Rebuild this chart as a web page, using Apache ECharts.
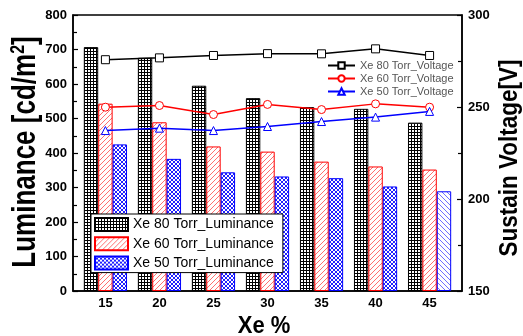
<!DOCTYPE html>
<html>
<head>
<meta charset="utf-8">
<script src="https://cdn.jsdelivr.net/npm/echarts@6/dist/echarts.min.js"></script>
<style>
  html, body { margin: 0; padding: 0; background: #fff; }
  #chart { width: 523px; height: 336px; }
</style>
</head>
<body>
<div id="chart"></div>
<script>
// Xe content (%)
const xeValues = [15, 20, 25, 30, 35, 40, 45];

// Luminance [cd/m2]
const lum80 = [707, 676, 595, 559, 533, 528, 488];
const lum60 = [543, 489, 419, 404, 375, 361, 352];
const lum50 = [425, 383, 344, 332, 327, 303, 289];

// Sustain voltage [V]
const volt80 = [275.7, 276.7, 278.0, 279.0, 278.9, 281.6, 278.0];
const volt60 = [249.9, 250.8, 245.9, 251.4, 248.6, 251.7, 249.9];
const volt50 = [237.2, 238.5, 237.2, 239.4, 242.1, 244.5, 247.6];

const barNames = ['Xe 80 Torr_Luminance', 'Xe 60 Torr_Luminance', 'Xe 50 Torr_Luminance'];
const lineNames = ['Xe 80 Torr_Voltage', 'Xe 60 Torr_Voltage', 'Xe 50 Torr_Voltage'];

// hatch fills
function tile(size, draw) {
  const c = document.createElement('canvas');
  c.width = c.height = size;
  const ctx = c.getContext('2d');
  ctx.fillStyle = '#fff';
  ctx.fillRect(0, 0, size, size);
  draw(ctx, size);
  return { image: c, repeat: 'repeat' };
}
const gridFill = tile(3, (ctx) => {
  ctx.fillStyle = '#000';
  ctx.fillRect(0, 0, 3, 1);
  ctx.fillRect(0, 0, 1, 3);
});
const slashFill = tile(5, (ctx, s) => {
  ctx.strokeStyle = '#ff7070';
  ctx.lineWidth = 1;
  ctx.beginPath();
  ctx.moveTo(-1, s + 1); ctx.lineTo(s + 1, -1);
  ctx.moveTo(-1, 1); ctx.lineTo(1, -1);
  ctx.moveTo(s - 1, s + 1); ctx.lineTo(s + 1, s - 1);
  ctx.stroke();
});
const crossFill = tile(4, (ctx, s) => {
  ctx.strokeStyle = '#2020ff';
  ctx.lineWidth = 1;
  ctx.beginPath();
  ctx.moveTo(0, 0); ctx.lineTo(s, s);
  ctx.moveTo(0, s); ctx.lineTo(s, 0);
  ctx.stroke();
});
const backFill = tile(5, (ctx, s) => {
  ctx.strokeStyle = '#7070ff';
  ctx.lineWidth = 1;
  ctx.beginPath();
  ctx.moveTo(-1, -1); ctx.lineTo(s + 1, s + 1);
  ctx.moveTo(s - 1, -1); ctx.lineTo(s + 1, 1);
  ctx.moveTo(-1, s - 1); ctx.lineTo(1, s + 1);
  ctx.stroke();
});

const pairs = (ys) => xeValues.map((x, i) => [x, ys[i]]);

const tickFont = { fontFamily: 'Liberation Sans', fontWeight: 'bold', fontSize: 13, color: '#000' };
const axisLine = { show: true, lineStyle: { color: '#000', width: 1.5 } };

const chart = echarts.init(document.getElementById('chart'));

function barSeries(name, ys, fill, border) {
  return {
    name: name,
    type: 'bar',
    data: pairs(ys),
    barWidth: 14.4,
    barGap: '0%',
    itemStyle: { color: fill, borderColor: border, borderWidth: 1 },
    z: 2
  };
}
function lineSeries(name, ys, color, symbol) {
  return {
    name: name,
    type: 'line',
    yAxisIndex: 1,
    data: pairs(ys),
    symbol: symbol,
    symbolSize: 8,
    lineStyle: { color: color, width: 1.5 },
    itemStyle: { color: '#fff', borderColor: color, borderWidth: 1 },
    z: 5
  };
}

const blueBars = barSeries(barNames[2], lum50, crossFill, '#0000ff');
blueBars.data[6] = { value: blueBars.data[6], itemStyle: { color: backFill } };

chart.setOption({
  animation: false,
  grid: { left: 73, right: 61, top: 15, bottom: 45, show: true, borderColor: '#000', borderWidth: 1.5 },
  legend: [
    {
      data: barNames,
      left: 91, top: 214,
      orient: 'vertical',
      icon: 'rect',
      itemWidth: 33, itemHeight: 13, itemGap: 4.3,
      padding: [3, 9, 2, 3],
      borderColor: '#000', borderWidth: 1, backgroundColor: '#fff',
      textStyle: { fontFamily: 'Liberation Sans', fontSize: 14, color: '#000' }
    },
    {
      data: lineNames,
      left: 327, top: 60,
      orient: 'vertical',
      itemWidth: 27, itemHeight: 8, itemGap: 2,
      padding: 0,
      textStyle: { fontFamily: 'Liberation Sans', fontSize: 11, color: '#555' }
    }
  ],
  xAxis: {
    type: 'value',
    min: 12, max: 48,
    axisLine: axisLine,
    axisTick: { show: true, inside: true, length: 4, customValues: xeValues, lineStyle: { color: '#000', width: 1.2 } },
    axisLabel: Object.assign({ margin: 6, customValues: xeValues }, tickFont),
    splitLine: { show: false }
  },
  yAxis: [
    {
      type: 'value',
      min: 0, max: 800, interval: 100,
      axisLine: axisLine,
      axisTick: { show: true, inside: true, length: 5, lineStyle: { color: '#000', width: 1.2 } },
      minorTick: { show: true, splitNumber: 2, length: 4, lineStyle: { color: '#000', width: 1.2 } },
      axisLabel: Object.assign({ margin: 6 }, tickFont),
      splitLine: { show: false }
    },
    {
      type: 'value',
      min: 150, max: 300, interval: 50,
      position: 'right',
      axisLine: axisLine,
      axisTick: { show: true, inside: true, length: 5, lineStyle: { color: '#000', width: 1.2 } },
      minorTick: { show: true, splitNumber: 2, length: 4, lineStyle: { color: '#000', width: 1.2 } },
      axisLabel: Object.assign({ margin: 6 }, tickFont),
      splitLine: { show: false }
    }
  ],
  graphic: [
    {
      type: 'text',
      x: 26, y: 152,
      rotation: Math.PI / 2,
      scaleY: 1.3,
      style: {
        text: '{a|Luminance [cd/m}{s|2}{a|]}',
        align: 'center', verticalAlign: 'middle',
        rich: {
          a: { fontFamily: 'Liberation Sans', fontWeight: 'bold', fontSize: 26, lineHeight: 28, fill: '#000' },
          s: { fontFamily: 'Liberation Sans', fontWeight: 'bold', fontSize: 16, lineHeight: 16, verticalAlign: 'top', fill: '#000' }
        }
      }
    },
    {
      type: 'text',
      x: 510, y: 158,
      rotation: Math.PI / 2,
      scaleY: 1.12,
      style: {
        text: 'Sustain Voltage[V]',
        align: 'center', verticalAlign: 'middle',
        font: 'bold 22.5px "Liberation Sans"', fill: '#000'
      }
    },
    {
      type: 'text',
      x: 264, y: 326,
      scaleY: 1.12,
      style: {
        text: 'Xe %',
        align: 'center', verticalAlign: 'middle',
        font: 'bold 22px "Liberation Sans"', fill: '#000'
      }
    }
  ],
  series: [
    barSeries(barNames[0], lum80, gridFill, '#000'),
    barSeries(barNames[1], lum60, slashFill, '#ff0000'),
    blueBars,
    lineSeries(lineNames[0], volt80, '#000', 'rect'),
    lineSeries(lineNames[1], volt60, '#ff0000', 'circle'),
    lineSeries(lineNames[2], volt50, '#0000ff', 'triangle')
  ]
});
</script>
</body>
</html>
